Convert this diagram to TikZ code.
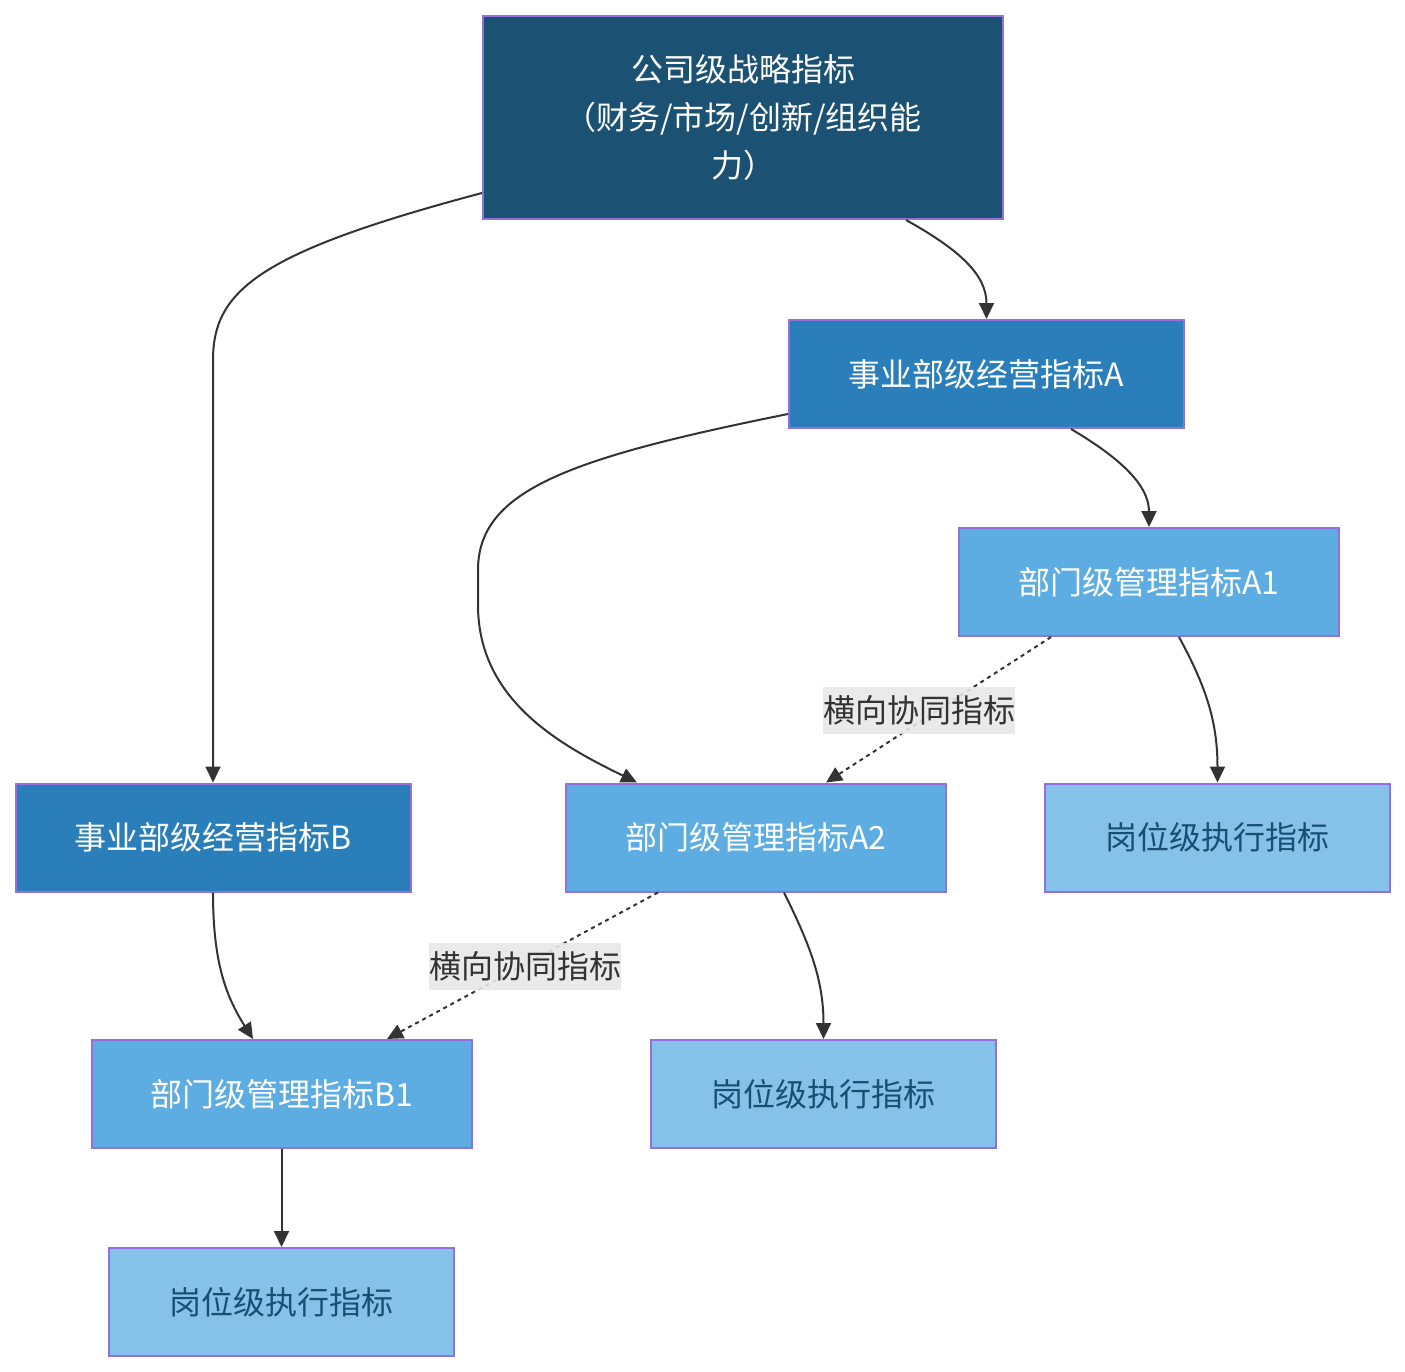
\documentclass[tikz,border=0pt]{standalone}
\usepackage{fontspec}
\setmainfont{Noto Sans CJK SC}
\usetikzlibrary{arrows.meta}
\definecolor{c1}{HTML}{1B5173}
\definecolor{c2}{HTML}{2A7FBA}
\definecolor{c3}{HTML}{5DADE2}
\definecolor{c4}{HTML}{85C1E9}
\definecolor{t4}{HTML}{1B4F72}
\definecolor{bd}{HTML}{9370DB}
\definecolor{ed}{HTML}{333333}
\definecolor{lbl}{HTML}{E8E8E8}
\begin{document}
\begin{tikzpicture}[x=1pt,y=-1pt,
  box/.style={draw=bd,line width=2pt,inner sep=0pt,minimum height=108pt,font=\fontsize{32}{48}\selectfont,align=center},
  lv1/.style={box,fill=c1,text=white,minimum width=520pt,minimum height=203pt},
  lv2/.style={box,fill=c2,text=white,minimum width=395pt},
  lv3/.style={box,fill=c3,text=white,minimum width=380pt},
  lv4/.style={box,fill=c4,text=t4,minimum width=345pt},
  edge/.style={draw=ed,line width=2pt,-{Triangle[length=16pt,width=15pt]}},
  dotedge/.style={edge,dash pattern=on 4pt off 4pt},
  lab/.style={fill=lbl,fill opacity=0.9,text opacity=1,text=ed,inner sep=0pt,minimum width=192pt,minimum height=47pt,font=\fontsize{32}{36}\selectfont}]
\useasboundingbox (0,0) rectangle (1405,1372);
\node[lv1] (top) at (743,117.5) {公司级战略指标\\（财务/市场/创新/组织能\\力）};
\node[lv2] (A) at (986.5,374) {事业部级经营指标A};
\node[lv3] (A1) at (1149,582) {部门级管理指标A1};
\node[lv2] (B) at (213,837.5) {事业部级经营指标B};
\node[lv3] (A2) at (756,837.5) {部门级管理指标A2};
\node[lv4] (P1) at (1217.5,837.5) {岗位级执行指标};
\node[lv3] (B1) at (281.5,1094) {部门级管理指标B1};
\node[lv4] (P2) at (823.5,1094) {岗位级执行指标};
\node[lv4] (P3) at (281.5,1302) {岗位级执行指标};

\draw[edge] ([yshift=-75.5pt]top.west) .. controls (260,252) and (213,290) .. (213,360) -- (B.north);
\draw[edge] ([xshift=163pt]top.south) .. controls (960,250) and (986.5,275) .. (A.north);
\draw[edge] ([yshift=-40pt]A.west) .. controls (570,458) and (478,490) .. (478,570) -- (478,605) .. controls (478,700) and (560,745) .. ([xshift=-119pt]A2.north);
\draw[edge] ([xshift=84.5pt]A.south) .. controls (1120,458) and (1149,485) .. (A1.north);
\draw[dotedge] ([xshift=-98pt]A1.south) -- ([xshift=70pt]A2.north);
\draw[edge] ([xshift=30pt]A1.south) .. controls (1205,685) and (1217.5,720) .. (P1.north);
\draw[edge] (B.south) .. controls (213,960) and (225,995) .. ([xshift=-28.5pt]B1.north);
\draw[dotedge] ([xshift=-98pt]A2.south) -- ([xshift=105.5pt]B1.north);
\draw[edge] ([xshift=28pt]A2.south) .. controls (810,945) and (823.5,980) .. (P2.north);
\draw[edge] (B1.south) -- (P3.north);

\node[lab] (l1) at (919,710) {横向协同指标};
\node[lab] (l2) at (525,966) {横向协同指标};
\end{tikzpicture}
\end{document}
